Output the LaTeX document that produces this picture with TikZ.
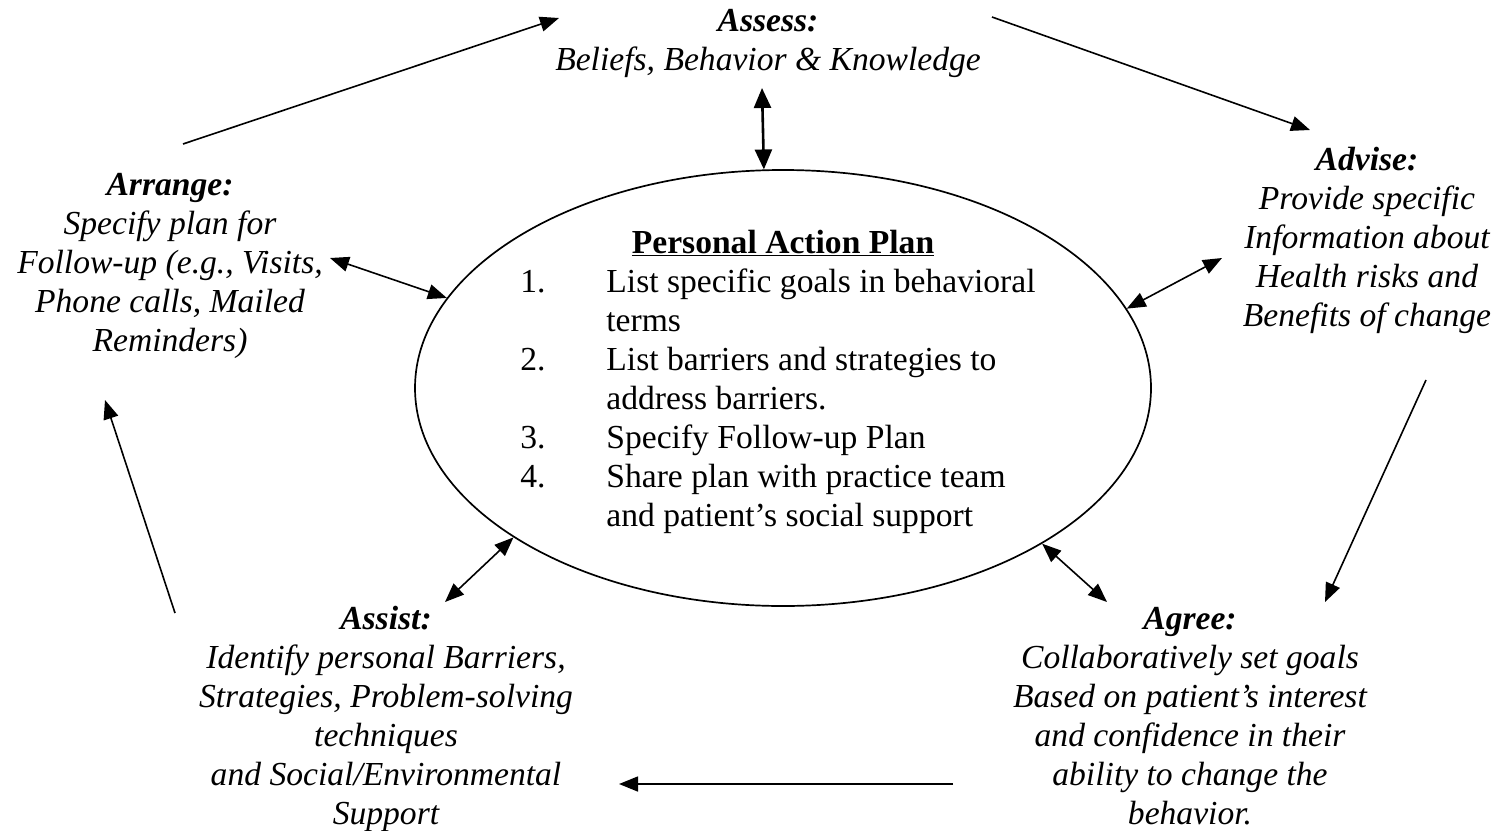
\documentclass[tikz,border=0pt]{standalone}
\usepackage{fontspec}
\setmainfont{Liberation Serif}
\usetikzlibrary{arrows.meta,calc,shapes.geometric}

\begin{document}
\begin{tikzpicture}[x=1pt,y=-1pt,
  stagetext/.style={align=center,inner sep=0pt,font=\fontsize{33.6}{39}\selectfont\itshape},
  cyclearrow/.style={-{Triangle[length=19pt,width=15pt]},line width=1.6pt},
  linkarrow/.style={{Triangle[length=19pt,width=15pt]}-{Triangle[length=19pt,width=15pt]},line width=1.6pt}
]
  \useasboundingbox (0,0) rectangle (1504,830);
  % Central plan
  \node[draw,ellipse,line width=1.7pt,minimum width=736pt,minimum height=436pt,inner sep=0pt] (plan) at (783,388) {};
  \node[inner sep=0pt,font=\fontsize{33.6}{39}\selectfont] (plantext) at (778,382) {%
    \begin{tabular}{@{}p{86pt}@{}l@{}}
      \multicolumn{2}{c}{\hspace*{10pt}\textbf{\underline{Personal Action Plan}}}\\
      1. & List specific goals in behavioral\\
         & terms\\
      2. & List barriers and strategies to\\
         & address barriers.\\
      3. & Specify Follow-up Plan\\
      4. & Share plan with practice team\\
         & and patient’s social support
    \end{tabular}};
  % Stages
  \node[stagetext] (assess) at (768,43) {\textbf{Assess:}\\Beliefs, Behavior \& Knowledge};
  \node[stagetext] (advise) at (1367,240) {\textbf{Advise:}\\Provide specific\\Information about\\Health risks and\\Benefits of change};
  \node[stagetext] (agree) at (1190,716) {\textbf{Agree:}\\Collaboratively set goals\\Based on patient’s interest\\and confidence in their\\ability to change the\\behavior.};
  \node[stagetext] (assist) at (386,719) {\textbf{Assist:}\\Identify personal Barriers,\\Strategies, Problem-solving\\techniques\\and Social/Environmental\\Support};
  \node[stagetext] (arrange) at (170,266) {\textbf{Arrange:}\\Specify plan for\\Follow-up (e.g., Visits,\\Phone calls, Mailed\\Reminders)};
  % Cycle arrows
  \draw[cyclearrow] ($(arrange)+(13,-122)$) -- ($(assess)+(-209,-25)$);
  \draw[cyclearrow] ($(assess)+(224,-26)$) -- ($(advise)+(-57,-110)$);
  \draw[cyclearrow] ($(advise)+(59,140)$) -- ($(agree)+(135,-114)$);
  \draw[cyclearrow] ($(agree)+(-237,68)$) -- ($(assist)+(233,65)$);
  \draw[cyclearrow] ($(assist)+(-211,-106)$) -- ($(arrange)+(-65,134)$);
  % Links to the plan
  \draw[linkarrow,line width=2.6pt,{Triangle[length=20pt,width=17pt]}-{Triangle[length=20pt,width=17pt]}]
    ($(assess)+(-6,45)$) -- (plan.95.5);
  \draw[linkarrow] ($(arrange)+(160,-8)$) -- (plan.165);
  \draw[linkarrow] ($(advise)+(-145,18)$) -- (plan.13);
  \draw[linkarrow] ($(assist)+(59,-117)$) -- (plan.209);
  \draw[linkarrow] ($(agree)+(-83,-114)$) -- (plan.329);
\end{tikzpicture}
\end{document}
